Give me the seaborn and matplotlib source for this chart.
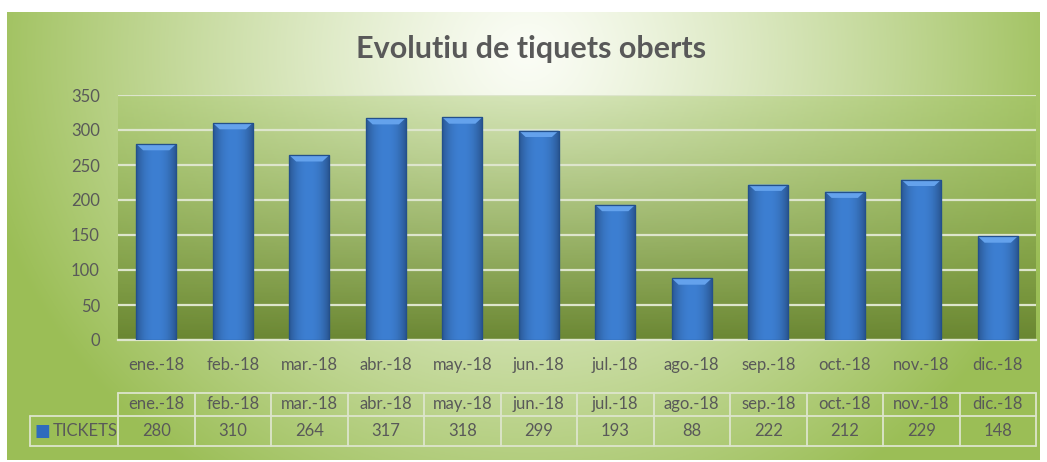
import numpy as np
import matplotlib
matplotlib.use("Agg")
import matplotlib.pyplot as plt
import matplotlib.transforms as mtransforms
from matplotlib.colors import to_rgba
from matplotlib.patches import Polygon
import seaborn as sns

months = ["ene.-18", "feb.-18", "mar.-18", "abr.-18", "may.-18", "jun.-18",
          "jul.-18", "ago.-18", "sep.-18", "oct.-18", "nov.-18", "dic.-18"]
tickets = [280, 310, 264, 317, 318, 299, 193, 88, 222, 212, 229, 148]
series_name = "TICKETS"
title = "Evolutiu de tiquets oberts"
yticks = [0, 50, 100, 150, 200, 250, 300, 350]

sns.set_theme(style="white")
plt.rcParams["font.family"] = ["Lato", "DejaVu Sans"]

TXT = "#595959"
LINE = "#dde5cc"
W, H = 1047, 462

fig = plt.figure(figsize=(W / 100, H / 100), dpi=100)
fig.patch.set_facecolor("white")

# chart area background: radial gradient, white at top centre
bx0, bx1, by0, by1 = 7, 1040, 12, 460
bg = fig.add_axes([bx0 / W, 1 - by1 / H, (bx1 - bx0) / W, (by1 - by0) / H], zorder=0)
bg.axis("off")
gw, gh = bx1 - bx0, by1 - by0
X, Y = np.meshgrid(np.arange(gw), np.arange(gh))
t = np.sqrt(((X - 520) / 560.0) ** 2 + ((Y - 40) / 520.0) ** 2)
t = np.clip(t, 0, 1) ** 1.2
c_in = np.array(to_rgba("#fbfdf6")[:3])
c_out = np.array(to_rgba("#9bbe56")[:3])
img = c_in[None, None, :] * (1 - t[..., None]) + c_out[None, None, :] * t[..., None]
bg.imshow(img, aspect="auto", extent=[0, 1, 0, 1])

# plot area
ax = fig.add_axes([118 / W, 1 - 340 / H, 918 / W, 245 / H], zorder=1)
ax.patch.set_alpha(0)
sns.barplot(x=months, y=tickets, ax=ax, color="#3a78c8", saturation=1,
            width=0.52, edgecolor="#24508a", linewidth=0.8, zorder=3)
ax.set_ylim(0, 350)
ax.set_xlim(-0.5, len(months) - 0.5)

# plot area gradient (top light, bottom dark olive)
ny = 200
top = np.array([0.64, 0.77, 0.40, 0.40])
bot = np.array([0.41, 0.52, 0.19, 0.97])
s = np.linspace(0, 1, ny)[:, None]
grad = (top * (1 - s) + bot * s)[:, None, :]
ax.imshow(grad, extent=[-0.5, len(months) - 0.5, 0, 350], aspect="auto", zorder=0)

for yv in yticks:
    ax.axhline(yv, color=LINE, lw=1.6, zorder=1)

# bar shading
edge_c = np.array(to_rgba("#2a5894")[:3])
mid_c = np.array(to_rgba("#3d7fd2")[:3])
u = np.linspace(-1, 1, 60)
w_ = (np.abs(u) ** 2.2)[None, :, None]
hgrad = mid_c * (1 - w_) + edge_c * w_
for p in list(ax.patches):
    x0, bw, bh = p.get_x(), p.get_width(), p.get_height()
    im = ax.imshow(hgrad, extent=[x0, x0 + bw, 0, bh], aspect="auto", zorder=3.5)
    im.set_clip_path(p)
    bevx, bevy = bw * 0.17, 9
    ax.add_patch(Polygon([(x0, bh), (x0 + bw, bh), (x0 + bw - bevx, bh - bevy),
                          (x0 + bevx, bh - bevy)], closed=True,
                         facecolor="#64a2ec", edgecolor="none", zorder=4))
    ax.add_patch(Polygon([(x0, 0), (x0 + bw, 0), (x0 + bw, bh), (x0, bh)], closed=True,
                         facecolor="none", edgecolor="#23508c", lw=0.9, zorder=4.5))

ax.set_xlim(-0.5, len(months) - 0.5)
ax.set_ylim(0, 350)
ax.set_yticks(yticks)
ax.set_xticks(range(len(months)))
ax.set_xticklabels(months)
ax.set_xticks(np.arange(len(months) + 1) - 0.5, minor=True)
ax.tick_params(axis="x", which="major", length=0, pad=12, labelsize=12, labelcolor=TXT)
ax.tick_params(axis="x", which="minor", length=5, width=1.2, color=LINE, direction="out")
ax.tick_params(axis="y", length=0, pad=13, labelsize=12, labelcolor=TXT)
ax.set_xlabel("")
ax.set_ylabel("")
for side in ["left", "right", "top"]:
    ax.spines[side].set_visible(False)
ax.spines["bottom"].set_color(LINE)
ax.spines["bottom"].set_linewidth(1.6)
ax.grid(False)

# data table
tr = ax.get_xaxis_transform()
y_head_top, y_mid, y_bot = (340 - 393) / 245, (340 - 416) / 245, (340 - 446) / 245
n = len(months)
kw = dict(color=LINE, lw=1.3, clip_on=False, transform=tr)
ax.plot([-0.5, n - 0.5], [y_head_top] * 2, **kw)
for i in range(n + 1):
    ax.plot([i - 0.5] * 2, [y_head_top, y_bot], **kw)
for i, (m, v) in enumerate(zip(months, tickets)):
    ax.text(i, (y_head_top + y_mid) / 2, m, transform=tr, ha="center", va="center",
            fontsize=12, color=TXT)
    ax.text(i, (y_mid + y_bot) / 2, str(v), transform=tr, ha="center", va="center",
            fontsize=12, color=TXT)

trf = mtransforms.blended_transform_factory(fig.transFigure, ax.transAxes)
xl = 30 / W
ax.plot([xl, 118 / W], [y_mid] * 2, color=LINE, lw=1.3, clip_on=False, transform=trf)
ax.plot([-0.5, n - 0.5], [y_mid] * 2, **kw)
ax.plot([xl, 118 / W], [y_bot] * 2, color=LINE, lw=1.3, clip_on=False, transform=trf)
ax.plot([-0.5, n - 0.5], [y_bot] * 2, **kw)
ax.plot([xl, xl], [y_mid, y_bot], color=LINE, lw=1.3, clip_on=False, transform=trf)
ax.text(34 / W, (y_mid + y_bot) / 2, "\u25A0", transform=trf, ha="left", va="center",
        fontsize=12, color="#2f6bbd", family=["DejaVu Sans"])
ax.text(53 / W, (y_mid + y_bot) / 2, series_name, transform=trf, ha="left", va="center",
        fontsize=12, color=TXT)

fig.text(531 / W, 1 - 49 / H, title, ha="center", va="center", fontsize=22,
         fontweight="bold", color=TXT)

fig.savefig("out.png", dpi=100)
